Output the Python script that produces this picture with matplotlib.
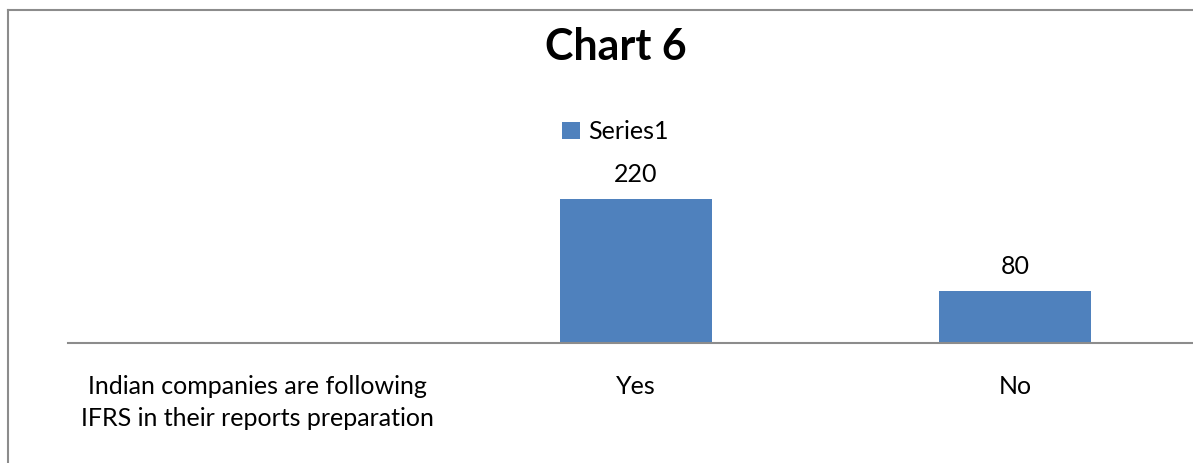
import matplotlib
matplotlib.use("Agg")
from matplotlib import pyplot as plt
from matplotlib.lines import Line2D

categories = ["Indian companies are following\nIFRS in their reports preparation", "Yes", "No"]
values = [None, 220, 80]
series_name = "Series1"
title = "Chart 6"

plt.rcParams['font.family'] = ['Lato', 'DejaVu Sans']

W, H = 1193, 463
fig = plt.figure(figsize=(W / 100, H / 100), dpi=100)

# axes placed in pixels: x from 67.5 to 1204.5, baseline at y=343, top at y=100
ax = fig.add_axes([67.5 / W, 120 / H, 1137 / W, 243 / H])

blue = "#4f81bd"
xs = [i for i, v in enumerate(values) if v is not None]
ys = [v for v in values if v is not None]
bars = ax.bar(xs, ys, width=0.4, color=blue, label=series_name, zorder=2)
for x, v in zip(xs, ys):
    ax.text(x, v + 19, str(v), ha="center", va="bottom", fontsize=18)

ax.set_xlim(-0.5, 2.5)
ax.set_ylim(0, 371)
ax.set_xticks(range(len(categories)))
ax.set_xticklabels(categories, fontsize=18, linespacing=1.5)
ax.tick_params(axis="x", length=0, pad=23)
ax.set_yticks([])
for s in ["top", "right", "left"]:
    ax.spines[s].set_visible(False)
ax.spines["bottom"].set_color("#8c8c8c")
ax.spines["bottom"].set_linewidth(1.5)

ax.legend(loc="upper left", bbox_to_anchor=(562 / W, 1 - 120 / H),
          bbox_transform=fig.transFigure, frameon=False, fontsize=18,
          handlelength=0.7, handleheight=0.7, handletextpad=0.35,
          borderaxespad=0, borderpad=0)

fig.text(616 / W, 1 - 47 / H, title, ha="center", va="center", fontsize=31, fontweight="bold")

# outer chart frame (left and top edges visible)
fig.add_artist(Line2D([8 / W, 8 / W], [0, 1 - 10 / H], transform=fig.transFigure, color="#8c8c8c", lw=1.5))
fig.add_artist(Line2D([8 / W, 1], [1 - 10 / H, 1 - 10 / H], transform=fig.transFigure, color="#8c8c8c", lw=1.5))

fig.savefig("out.png", dpi=100)
